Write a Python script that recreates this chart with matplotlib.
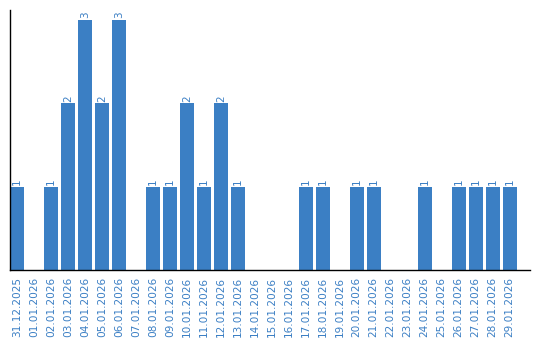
import matplotlib
matplotlib.use('Agg')
import matplotlib.pyplot as plt

dates = ['31.12.2025', '01.01.2026', '02.01.2026', '03.01.2026', '04.01.2026',
         '05.01.2026', '06.01.2026', '07.01.2026', '08.01.2026', '09.01.2026',
         '10.01.2026', '11.01.2026', '12.01.2026', '13.01.2026', '14.01.2026',
         '15.01.2026', '16.01.2026', '17.01.2026', '18.01.2026', '19.01.2026',
         '20.01.2026', '21.01.2026', '22.01.2026', '23.01.2026', '24.01.2026',
         '25.01.2026', '26.01.2026', '27.01.2026', '28.01.2026', '29.01.2026']
counts = [1, 0, 1, 2, 3, 2, 3, 0, 1, 1, 2, 1, 2, 1, 0,
          0, 0, 1, 1, 0, 1, 1, 0, 0, 1, 0, 1, 1, 1, 1]

blue = '#3b7fc4'

fig = plt.figure(figsize=(5.4, 3.4), dpi=100)
ax = fig.add_axes([10 / 540, 70 / 340, 520 / 540, 260 / 340])

x = range(len(dates))
ax.bar(x, counts, width=0.82, color=blue)

# etiquetas de valor (solo barras no nulas)
for i, c in enumerate(counts):
    if c > 0:
        ax.text(i, c + 0.02, str(c), rotation=90, ha='center', va='bottom',
                fontsize=7.5, color=blue)

ax.set_xlim(-0.41, 30.2)
ax.set_ylim(0, 3.12)
ax.set_xticks(list(x))
ax.set_xticklabels(dates, rotation=90, fontsize=7.6, color=blue)
ax.tick_params(axis='x', length=0, pad=5)
ax.set_yticks([])

for side in ['top', 'right']:
    ax.spines[side].set_visible(False)
ax.spines['left'].set_linewidth(1)
ax.spines['bottom'].set_linewidth(1)

fig.savefig('out.png', dpi=100)
